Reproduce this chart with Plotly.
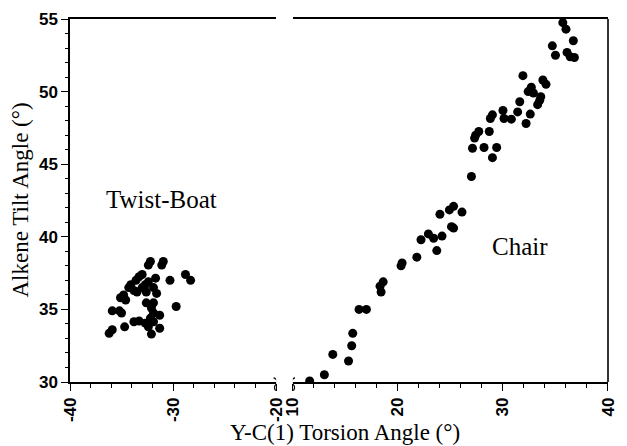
import plotly.graph_objects as go

# Twist-Boat cluster (torsion angle, tilt angle)
tb_x = [-36.2, -35.9, -34.7, -35.9, -35.2, -35.0, -35.1, -34.8, -34.3, -34.1, -33.6, -33.3,
        -33.0, -33.5, -33.0, -32.7, -32.4, -32.6, -31.9, -31.6, -31.7, -32.4, -32.2, -31.1,
        -30.95, -30.3, -28.8, -28.3, -29.7, -33.8, -33.3, -32.7, -32.1, -31.9, -31.3, -32.2,
        -31.9, -32.4, -32.1, -31.3, -32.6, -31.9, -34.6, -33.8]
tb_y = [33.35, 33.6, 33.8, 34.9, 34.9, 34.75, 35.8, 36.0, 36.5, 36.7, 37.0, 37.25,
        37.4, 36.2, 36.5, 36.7, 36.9, 36.2, 36.5, 36.1, 37.15, 38.05, 38.3, 38.05,
        38.3, 37.0, 37.4, 37.0, 35.2, 34.15, 34.2, 34.05, 35.1, 34.75, 34.6, 34.4,
        34.15, 33.8, 33.3, 33.7, 35.45, 35.45, 35.65, 36.3]

# Chair series
ch_x = [11.6, 13.0, 13.8, 15.3, 15.6, 15.7, 16.3, 17.0, 18.4, 18.6, 18.3, 20.3, 20.4,
        21.8, 23.7, 22.2, 22.9, 23.4, 24.2, 25.1, 25.3, 24.0, 24.9, 25.3, 26.1,
        27.0, 27.1, 28.2, 29.4, 29.0, 27.3, 27.7, 28.7, 27.4, 29.0, 28.8, 30.0, 30.1,
        30.8, 31.4, 31.6, 32.6, 32.2, 31.9, 32.4, 32.7, 32.9, 33.3, 33.5, 33.6, 33.8,
        34.1, 34.7, 35.0, 35.7, 36.0, 36.7, 36.1, 36.4, 36.8]
ch_y = [30.07, 30.5, 31.9, 31.45, 32.5, 33.35, 35.0, 35.0, 36.2, 36.9, 36.6, 38.0, 38.2,
        38.6, 39.05, 39.8, 40.2, 39.9, 40.05, 40.7, 40.6, 41.55, 41.85, 42.1, 41.7,
        44.15, 46.1, 46.15, 46.15, 45.45, 46.8, 47.25, 47.25, 47.0, 48.4, 48.15, 48.7, 48.15,
        48.1, 48.6, 49.3, 48.45, 47.8, 51.1, 50.0, 50.3, 49.9, 49.1, 49.4, 49.65, 50.8,
        50.5, 53.15, 52.5, 54.75, 54.3, 53.5, 52.7, 52.4, 52.35]

left_ticks = [-40, -30, -20]
left_labels = ["-40", "-30", "-20"]
right_ticks = [10, 20, 30, 40]
right_labels = ["10", "20", "30", "40"]
y_ticks = [30, 35, 40, 45, 50, 55]

fig = go.Figure()
mk = dict(color="black", size=9, line=dict(width=0))
fig.add_trace(go.Scatter(x=tb_x, y=tb_y, mode="markers", marker=mk, xaxis="x", yaxis="y",
                         showlegend=False))
fig.add_trace(go.Scatter(x=ch_x, y=ch_y, mode="markers", marker=mk, xaxis="x2", yaxis="y",
                         showlegend=False))

tickfont = dict(family="Liberation Sans, Arial", size=17, color="black", weight="bold")
common_x = dict(showline=True, linecolor="black", linewidth=1.5, mirror=True,
                ticks="outside", ticklen=7, tickwidth=1, tickcolor="black",
                tickangle=-90, tickfont=tickfont, showgrid=False, zeroline=False,
                ticklabelstandoff=0,
                minor=dict(dtick=2, ticks="outside", ticklen=4, tickcolor="black", showgrid=False))

L0, L1, R0 = 0.0, 210/548, 227/548
fig.update_layout(
    width=627, height=446,
    margin=dict(l=70, r=9, t=19, b=64),
    paper_bgcolor="white", plot_bgcolor="white",
    xaxis=dict(domain=[L0, L1], range=[-40, -20], tickvals=left_ticks, ticktext=left_labels,
               anchor="y", **common_x),
    xaxis2=dict(domain=[R0, 1.0], range=[10, 40], tickvals=right_ticks, ticktext=right_labels,
                anchor="y", **common_x),
    yaxis=dict(range=[30, 55], tickvals=y_ticks, anchor="x", showline=True, linecolor="black",
               linewidth=1.5, ticks="outside", ticklen=7, tickcolor="black", tickfont=tickfont,
               showgrid=False, zeroline=False,
               minor=dict(dtick=1, ticks="outside", ticklen=3, tickcolor="black", showgrid=False)),
)

title_font = dict(family="Liberation Serif, Times New Roman", size=23, color="black")
label_font = dict(family="Liberation Serif, Times New Roman", size=25, color="black")
fig.add_annotation(text="Y-C(1) Torsion Angle (°)", xref="paper", yref="paper", x=0.511, y=0,
                   yshift=-50, showarrow=False, font=title_font, xanchor="center", yanchor="middle")
fig.add_annotation(text="Alkene Tilt Angle (°)", xref="paper", yref="paper", x=0, y=0.5,
                   xshift=-50, textangle=-90, showarrow=False, font=title_font,
                   xanchor="center", yanchor="middle")
fig.add_annotation(text="Twist-Boat", xref="x", yref="y", x=-31.1, y=42.6, showarrow=False,
                   font=label_font)
fig.add_annotation(text="Chair", xref="x2", yref="y", x=31.6, y=39.3, showarrow=False,
                   font=label_font)

# right frame line
fig.add_shape(type="line", xref="paper", yref="paper", x0=1, x1=1, y0=0, y1=1,
              line=dict(color="#333", width=2))
# axis break squiggles
fig.add_shape(type="path", xref="x", yref="paper",
              path="M -20.25,0.012 Q -19.7,0.004 -20.0,-0.006 Q -20.3,-0.014 -20.05,-0.024",
              line=dict(color="black", width=1.2))
fig.add_shape(type="path", xref="x2", yref="paper",
              path="M 10.2,0.012 Q 9.7,0.004 10.0,-0.006 Q 10.3,-0.014 10.05,-0.024",
              line=dict(color="black", width=1.2))

fig.write_html("out.html")
